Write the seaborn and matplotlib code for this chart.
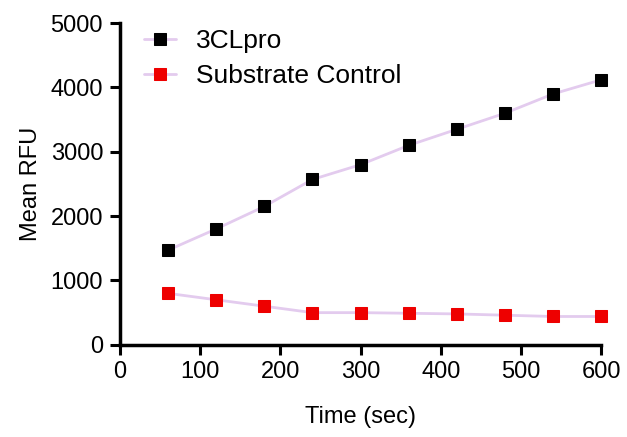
import matplotlib
matplotlib.use("Agg")
import matplotlib.pyplot as plt
import seaborn as sns
import pandas as pd

time_sec = [60, 120, 180, 240, 300, 360, 420, 480, 540, 600]
rfu_3clpro = [1470, 1800, 2150, 2570, 2800, 3100, 3350, 3600, 3900, 4120]
rfu_control = [800, 700, 600, 500, 500, 490, 480, 460, 440, 440]
series_names = ["3CLpro", "Substrate Control"]

sns.set_style("ticks")
plt.rcParams['font.family'] = ['Liberation Sans', 'DejaVu Sans']
plt.rcParams['text.color'] = 'black'
plt.rcParams['axes.labelcolor'] = 'black'

fig = plt.figure(figsize=(6.27, 4.37), dpi=100)
ax = fig.add_axes([0.191, 0.211, 0.768, 0.736])

line_color = "#e3cbee"
for name, vals, mcol in [(series_names[0], rfu_3clpro, "black"),
                         (series_names[1], rfu_control, "#ee0000")]:
    df = pd.DataFrame({"time": time_sec, "rfu": vals})
    sns.lineplot(data=df, x="time", y="rfu", ax=ax, color=line_color, lw=2,
                 marker="s", markersize=8.5, markerfacecolor=mcol,
                 markeredgecolor=mcol, label=name, clip_on=False, zorder=3)

ax.set_xlim(0, 600)
ax.set_ylim(0, 5000)
ax.set_xticks(range(0, 601, 100))
ax.set_yticks(range(0, 5001, 1000))
ax.set_xlabel("Time (sec)", fontsize=17, labelpad=16)
ax.set_ylabel("Mean RFU", fontsize=17, labelpad=6)
ax.tick_params(labelsize=17, width=2.2, length=7, pad=5,
               color="black", labelcolor="black")
sns.despine(ax=ax)
for sp in ["left", "bottom"]:
    ax.spines[sp].set_linewidth(2.5)
    ax.spines[sp].set_color("black")

ax.legend(loc="upper left", bbox_to_anchor=(0.002, 1.055), frameon=False,
          fontsize=19, handlelength=1.2, handletextpad=0.76, labelspacing=0.4)

fig.savefig("out.png", dpi=100)
